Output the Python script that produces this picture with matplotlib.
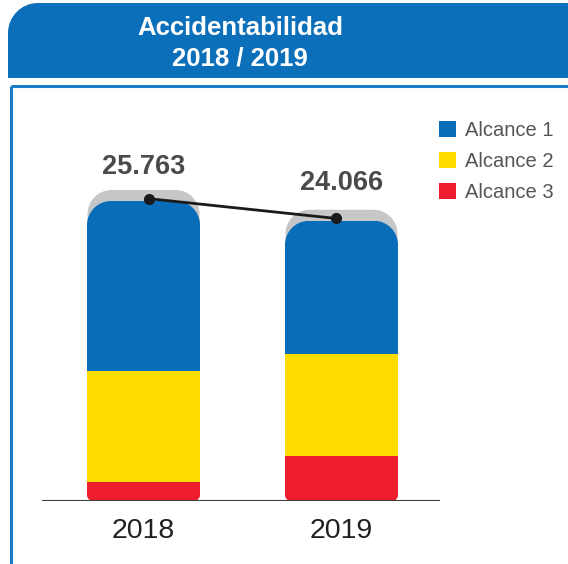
import matplotlib
matplotlib.use("Agg")
import matplotlib.pyplot as plt
from matplotlib.path import Path
from matplotlib.patches import PathPatch, Patch

# ---- data ----
years = ["2018", "2019"]
series_names = ["Alcance 1", "Alcance 2", "Alcance 3"]
alcance1 = [14590, 11440]
alcance2 = [9550, 8790]
alcance3 = [1623, 3836]
totals = [25763, 24066]
total_labels = ["25.763", "24.066"]

colors = ["#0a6dba", "#ffdc00", "#ed1c2e"]
title_blue = "#0b6fb9"
frame_blue = "#1a7cc6"

FONT = ["Liberation Sans", "DejaVu Sans"]
plt.rcParams["font.family"] = FONT

W, H = 568, 564
fig = plt.figure(figsize=(W / 100, H / 100), dpi=100)

# ---- decoration overlay (pixel coordinates) ----
deco = fig.add_axes([0, 0, 1, 1], zorder=0)
deco.set_xlim(0, W)
deco.set_ylim(H, 0)
deco.axis("off")
r = 30
k = 0.5523
tb_verts = [(8, 78), (8, 3 + r), (8, 3 + r - k * r), (8 + r - k * r, 3), (8 + r, 3),
            (W + 2, 3), (W + 2, 78), (8, 78)]
tb_codes = [Path.MOVETO, Path.LINETO, Path.CURVE4, Path.CURVE4, Path.CURVE4,
            Path.LINETO, Path.LINETO, Path.CLOSEPOLY]
deco.add_patch(PathPatch(Path(tb_verts, tb_codes), facecolor=title_blue, edgecolor="none"))
deco.plot([11, W], [86, 86], color=frame_blue, lw=2.2, solid_capstyle="butt")
deco.plot([11, 11], [86, H], color=frame_blue, lw=2.2, solid_capstyle="butt")
deco.text(240, 28, "Accidentabilidad", color="white", fontsize=18.5, fontweight="bold",
          ha="center", va="center")
deco.text(240, 58, "2018 / 2019", color="white", fontsize=18.5, fontweight="bold",
          ha="center", va="center")

# ---- chart axes ----
ax_left_px, ax_right_px, base_px, top_px = 42, 440, 501, 100
ax = fig.add_axes([ax_left_px / W, (H - base_px) / H,
                   (ax_right_px - ax_left_px) / W, (base_px - top_px) / H], zorder=1)
ax.patch.set_alpha(0)
unit_per_px = 85.88
xpx_per_unit = 198.0
ax.set_ylim(0, (base_px - top_px) * unit_per_px)
xl = -101.5 / xpx_per_unit
ax.set_xlim(xl, xl + (ax_right_px - ax_left_px) / xpx_per_unit)
for s in ax.spines.values():
    s.set_visible(False)
ax.set_yticks([])

x = list(range(len(years)))
width = 113 / xpx_per_unit


def rounded_path(x0, y0, x1, y1, rt_px, rb_px):
    rtx, rty = rt_px / xpx_per_unit, rt_px * unit_per_px
    rbx, rby = rb_px / xpx_per_unit, rb_px * unit_per_px
    verts = [(x0 + rbx, y0), (x1 - rbx, y0),
             (x1 - rbx + k * rbx, y0), (x1, y0 + rby - k * rby), (x1, y0 + rby),
             (x1, y1 - rty),
             (x1, y1 - rty + k * rty), (x1 - rtx + k * rtx, y1), (x1 - rtx, y1),
             (x0 + rtx, y1),
             (x0 + rtx - k * rtx, y1), (x0, y1 - rty + k * rty), (x0, y1 - rty),
             (x0, y0 + rby),
             (x0, y0 + rby - k * rby), (x0 + rbx - k * rbx, y0), (x0 + rbx, y0),
             (x0 + rbx, y0)]
    codes = ([Path.MOVETO, Path.LINETO] + [Path.CURVE4] * 3 + [Path.LINETO] +
             [Path.CURVE4] * 3 + [Path.LINETO] + [Path.CURVE4] * 3 + [Path.LINETO] +
             [Path.CURVE4] * 3 + [Path.CLOSEPOLY])
    return Path(verts, codes)


for i, xi in enumerate(x):
    sh = PathPatch(rounded_path(xi - width / 2 + 0.5 / xpx_per_unit, totals[i] * 0.7,
                                xi + width / 2 - 0.5 / xpx_per_unit,
                                totals[i] + 11 * unit_per_px, 24, 6),
                   facecolor="#c6c7c9", edgecolor="none", zorder=1)
    ax.add_patch(sh)

clips = [PathPatch(rounded_path(xi - width / 2, 0, xi + width / 2, totals[i], 24, 6),
                   transform=ax.transData) for i, xi in enumerate(x)]

bottom = [0, 0]
for vals, c in zip([alcance3, alcance2, alcance1], [colors[2], colors[1], colors[0]]):
    bars = ax.bar(x, vals, width=width, bottom=bottom, color=c, zorder=2)
    for b, cp in zip(bars, clips):
        b.set_clip_path(cp)
    bottom = [b_ + v for b_, v in zip(bottom, vals)]

ax.axhline(0, color="#3d3d3d", lw=1.5, zorder=3)

# connecting line with dots
dot_x = [x[0] + 5.5 / xpx_per_unit, x[1] - 5.5 / xpx_per_unit]
dot_y = [t + 200 for t in totals]
ax.plot(dot_x, dot_y, color="#1a1a1a", lw=2, marker="o", markersize=7, zorder=4)

# total labels
offs = [34, 38]
for xi, t, lab, o in zip(x, totals, total_labels, offs):
    ax.annotate(lab, (xi, t), xytext=(0, o), textcoords="offset pixels",
                ha="center", va="center", fontsize=19.5, fontweight="bold", color="#4a4a4a")

ax.set_xticks(x)
ax.set_xticklabels(years, fontsize=20.5, color="#231f20")
ax.tick_params(axis="x", length=0, pad=12)

handles = [Patch(facecolor=c, edgecolor="none") for c in colors]
fig.legend(handles, series_names, loc="upper left", bbox_to_anchor=(439 / W, 1 - 121 / H),
           frameon=False, fontsize=14.5, handlelength=0.85, handleheight=0.85,
           handletextpad=0.45, labelspacing=0.6, borderaxespad=0, borderpad=0,
           labelcolor="#555555")

fig.savefig("out.png", dpi=100)
